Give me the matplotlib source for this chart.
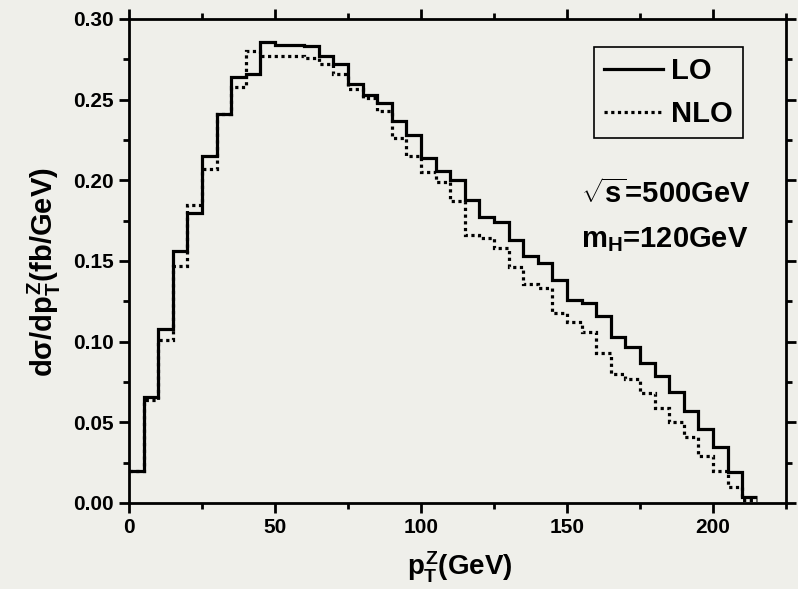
import numpy as np
import matplotlib
matplotlib.use("Agg")
import matplotlib.pyplot as plt
from matplotlib.lines import Line2D
from matplotlib.ticker import MultipleLocator

# bin edges in GeV (5 GeV bins) and the two distributions
edges = np.arange(0, 220, 5)
lo = [0.020, 0.066, 0.108, 0.156, 0.180, 0.215, 0.241, 0.264, 0.266, 0.286,
      0.284, 0.284, 0.283, 0.277, 0.272, 0.260, 0.253, 0.248, 0.237, 0.228,
      0.214, 0.206, 0.200, 0.188, 0.177, 0.174, 0.163, 0.153, 0.149, 0.138,
      0.126, 0.124, 0.116, 0.103, 0.097, 0.087, 0.079, 0.069, 0.057, 0.046,
      0.035, 0.019, 0.004]
nlo = [0.020, 0.064, 0.101, 0.147, 0.185, 0.207, 0.241, 0.258, 0.280, 0.277,
       0.277, 0.277, 0.276, 0.272, 0.266, 0.2565, 0.251, 0.243, 0.226, 0.215,
       0.205, 0.199, 0.187, 0.166, 0.164, 0.158, 0.146, 0.136, 0.133, 0.118,
       0.112, 0.106, 0.093, 0.080, 0.077, 0.068, 0.059, 0.050, 0.041, 0.029,
       0.020, 0.010, 0.002]

plt.rcParams['font.family'] = ['Liberation Sans', 'DejaVu Sans']
plt.rcParams['font.weight'] = 'bold'
plt.rcParams['mathtext.fontset'] = 'custom'
plt.rcParams['mathtext.rm'] = 'Liberation Sans:bold'
plt.rcParams['mathtext.it'] = 'Liberation Sans:bold'
plt.rcParams['mathtext.bf'] = 'Liberation Sans:bold'
plt.rcParams['mathtext.sf'] = 'Liberation Sans:bold'

bg = '#efefea'
fig = plt.figure(figsize=(7.98, 5.89), dpi=100, facecolor=bg)
ax = fig.add_axes([129 / 798, 1 - 503 / 589, 657 / 798, 484 / 589])
ax.set_facecolor(bg)

ax.stairs(lo, edges, color='black', lw=2.3, baseline=None)
ax.stairs(nlo, edges, color='black', lw=2.3, ls=(0, (1, 1.1)), baseline=None)

ax.set_xlim(0, 225)
ax.set_ylim(0, 0.30)
ax.xaxis.set_major_locator(MultipleLocator(50))
ax.xaxis.set_minor_locator(MultipleLocator(25))
ax.yaxis.set_major_locator(MultipleLocator(0.05))
ax.yaxis.set_minor_locator(MultipleLocator(0.025))
ax.yaxis.set_major_formatter(plt.FormatStrFormatter('%.2f'))

for s in ax.spines.values():
    s.set_linewidth(2.0)
ax.tick_params(which='both', direction='out', top=True, right=True, width=2.0)
ax.tick_params(which='major', length=7, labelsize=15, pad=4)
ax.tick_params(which='minor', length=4)
for lab in ax.get_xticklabels() + ax.get_yticklabels():
    lab.set_fontweight('bold')

fig.text(460 / 798, 1 - 567 / 589, r'$p_T^Z$(GeV)', fontsize=20,
         fontweight='bold', ha='center', va='center')
fig.text(44 / 798, 1 - 272 / 589, r'd$\sigma$/d$p_T^Z$(fb/GeV)', fontsize=21,
         fontweight='bold', ha='center', va='center', rotation=90)

handles = [Line2D([], [], color='black', lw=2.3),
           Line2D([], [], color='black', lw=2.3, ls=(0, (1, 1.1)))]
leg = ax.legend(handles, ['LO', 'NLO'], loc='upper right',
                bbox_to_anchor=(0.935, 0.942), fontsize=21, frameon=True,
                fancybox=False, edgecolor='black', facecolor=bg, framealpha=1,
                handlelength=2.0, handletextpad=0.3, borderpad=0.35,
                labelspacing=0.5, borderaxespad=0)
leg.get_frame().set_linewidth(1.2)
for t in leg.get_texts():
    t.set_fontweight('bold')

ax.text(0.688, 0.638, r'$\sqrt{s}$=500GeV', transform=ax.transAxes,
        fontsize=21, fontweight='bold', ha='left', va='center')
ax.text(0.688, 0.545, r'm$_H$=120GeV', transform=ax.transAxes,
        fontsize=21, fontweight='bold', ha='left', va='center')

fig.savefig('out.png', dpi=100, facecolor=bg)
